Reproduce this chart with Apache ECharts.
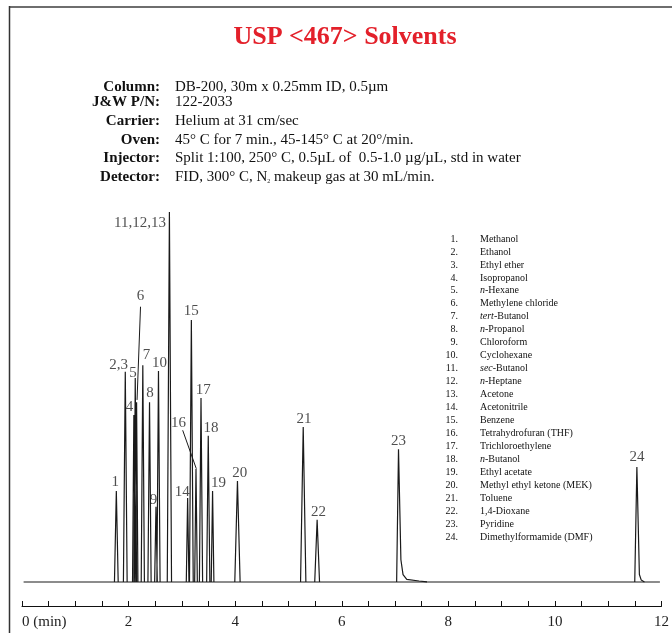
<!DOCTYPE html>
<html>
<head>
<meta charset="utf-8">
<script src="https://cdn.jsdelivr.net/npm/echarts@6/dist/echarts.min.js"></script>
<style>
html,body{margin:0;padding:0;background:#fff;}
#chart{width:672px;height:633px;}
</style>
</head>
<body>
<div id="chart"></div>
<script>
// ---- Data ----
var titleText = 'USP <467> Solvents';
var headerKeys = ['Column:', 'J&W P/N:', 'Carrier:', 'Oven:', 'Injector:', 'Detector:'];
var headerValues = [
  'DB-200, 30m x 0.25mm ID, 0.5µm',
  '122-2033',
  'Helium at 31 cm/sec',
  '45° C for 7 min., 45-145° C at 20°/min.',
  'Split 1:100, 250° C, 0.5µL of  0.5-1.0 µg/µL, std in water',
  'FID, 300° C, N{s|2} makeup gas at 30 mL/min.'
];
var compoundNumbers = ['1.','2.','3.','4.','5.','6.','7.','8.','9.','10.','11.','12.','13.','14.','15.','16.','17.','18.','19.','20.','21.','22.','23.','24.'];
var compoundNames = [
  'Methanol','Ethanol','Ethyl ether','Isopropanol','{i|n}-Hexane','Methylene chloride',
  '{i|tert}-Butanol','{i|n}-Propanol','Chloroform','Cyclohexane','{i|sec}-Butanol','{i|n}-Heptane',
  'Acetone','Acetonitrile','Benzene','Tetrahydrofuran (THF)','Trichloroethylene','{i|n}-Butanol',
  'Ethyl acetate','Methyl ethyl ketone (MEK)','Toluene','1,4-Dioxane','Pyridine','Dimethylformamide (DMF)'
];

// peaks: retention time (min), apex height (% of tallest), base width (min)
var peakTimes   = [1.770, 1.938, 2.099, 2.125, 2.150, 2.267, 2.393, 2.514, 2.561, 2.766, 3.108, 3.178, 3.265, 3.359, 3.495, 3.576, 4.043, 5.277, 5.538, 7.065, 11.538];
var peakHeights = [24.6, 56.8, 45.1, 55.1, 48.6, 58.6, 48.6, 20.3, 57.0, 100, 22.7, 70.8, 30.5, 49.7, 39.5, 24.6, 27.3, 41.9, 16.8, 35.9, 31.1];
var peakWidths  = [0.07, 0.07, 0.05, 0.05, 0.05, 0.06, 0.06, 0.05, 0.06, 0.08, 0.05, 0.07, 0.05, 0.06, 0.06, 0.05, 0.10, 0.10, 0.09, 0.07, 0.08];
// tailing right-hand sides of peaks 23 and 24 (time, height)
var tail23 = [[7.11, 6.0], [7.15, 2.0], [7.22, 0.7], [7.45, 0.25], [7.60, 0]];
var tail24 = [[11.585, 2.0], [11.62, 0.5], [11.68, 0]];
var baselineStart = 0.03, baselineEnd = 11.97;

// peak labels: text, time position, height position (label centre)
var labelTexts   = ['1', '2,3', '4', '5', '6', '7', '8', '9', '10', '11,12,13', '14', '15', '16', '17', '18', '19', '20', '21', '22', '23', '24'];
var labelTimes   = [1.751, 1.813, 2.019, 2.084, 2.224, 2.336, 2.402, 2.467, 2.579, 2.215, 3.009, 3.178, 2.935, 3.402, 3.546, 3.688, 4.088, 5.290, 5.565, 7.065, 11.538];
var labelHeights = [27.0, 58.6, 47.3, 56.5, 77.3, 61.4, 51.1, 22.2, 59.2, 97.0, 24.3, 73.2, 43.0, 51.9, 41.6, 26.8, 29.5, 44.1, 18.9, 38.1, 33.8];
// leader lines for labels 6 and 16
var leader6  = [[2.224, 74.4], [2.159, 49.2]];
var leader16 = [[3.015, 41.0], [3.271, 30.6]];

var tickValues = [0, 2, 4, 6, 8, 10, 12];
var tickLabels = ['0 (min)', '2', '4', '6', '8', '10', '12'];

// ---- build the trace ----
var peakData = [];
for (var i = 0; i < peakTimes.length; i++) {
  var t = peakTimes[i], h = peakHeights[i], w = peakWidths[i] / 2;
  peakData.push([t - w, 0]);
  peakData.push([t, h]);
  var tail = (i === 19) ? tail23 : (i === 20 ? tail24 : null);
  if (tail) { tail.forEach(function (p) { peakData.push(p); }); }
  else peakData.push([t + w, 0]);
  peakData.push([t, '-']);
}
var leaderData = leader6.concat([[leader6[1][0], '-']]).concat(leader16);
var labelData = labelTexts.map(function (s, k) { return [labelTimes[k], labelHeights[k], s]; });

var SERIF = '"Liberation Serif","Times New Roman",Times,serif';
var graphics = [
  { type: 'line', shape: { x1: 9, y1: 7, x2: 672, y2: 7 }, style: { stroke: '#6e6e6e', lineWidth: 2 } },
  { type: 'line', shape: { x1: 9.5, y1: 6, x2: 9.5, y2: 633 }, style: { stroke: '#333', lineWidth: 1.5 } },
  { type: 'text', x: 345, y: 37, style: { text: titleText, fill: '#e3202a', fontFamily: SERIF, fontSize: 26, fontWeight: 'bold', align: 'center', verticalAlign: 'middle' } }
];
var rowY = [87, 102, 121, 140, 158, 177];
headerKeys.forEach(function (k, j) {
  graphics.push({ type: 'text', x: 160, y: rowY[j], style: { text: k, fill: '#111', fontFamily: SERIF, fontSize: 15, fontWeight: 'bold', align: 'right', verticalAlign: 'middle' } });
  graphics.push({ type: 'text', x: 175, y: rowY[j], style: { text: headerValues[j], fill: '#111', fontFamily: SERIF, fontSize: 15, align: 'left', verticalAlign: 'middle',
    rich: { s: { fontSize: 6, fontFamily: SERIF, fill: '#111', verticalAlign: 'bottom', lineHeight: 14, padding: [10, 0, 0, 0] } } } });
});
compoundNumbers.forEach(function (n, j) {
  var y = 239 + 12.96 * j;
  graphics.push({ type: 'text', x: 458, y: y, style: { text: n, fill: '#111', fontFamily: SERIF, fontSize: 10, align: 'right', verticalAlign: 'middle' } });
  graphics.push({ type: 'text', x: 480, y: y, style: { text: compoundNames[j], fill: '#111', fontFamily: SERIF, fontSize: 10, align: 'left', verticalAlign: 'middle',
    rich: { i: { fontStyle: 'italic', fontFamily: SERIF, fontSize: 10, fill: '#111' } } } });
});

var chart = echarts.init(document.getElementById('chart'), null, { renderer: 'canvas' });
chart.setOption({
  animation: false,
  backgroundColor: '#fff',
  grid: { left: 22, right: 8, top: 212, bottom: 27 },
  xAxis: {
    type: 'value', min: 0, max: 12, interval: 0.5,
    axisLine: { show: true, onZero: false, lineStyle: { color: '#111', width: 1 } },
    axisTick: { show: true, inside: true, length: 5, lineStyle: { color: '#111' } },
    splitLine: { show: false },
    axisLabel: {
      show: true, margin: 9, color: '#222', fontFamily: SERIF, fontSize: 15,
      alignMinLabel: 'left', showMinLabel: true, showMaxLabel: true, hideOverlap: false,
      formatter: function (v) {
        var k = tickValues.indexOf(Math.round(v * 100) / 100);
        return k >= 0 ? tickLabels[k] : '';
      }
    }
  },
  yAxis: { type: 'value', min: -6.5, max: 100, show: false, splitLine: { show: false } },
  series: [
    { type: 'line', data: [[baselineStart, 0], [baselineEnd, 0]], symbol: 'none', lineStyle: { color: '#1a1a1a', width: 1.1 }, silent: true },
    { type: 'line', data: peakData, symbol: 'none', connectNulls: false, lineStyle: { color: '#1a1a1a', width: 1.2 }, silent: true },
    { type: 'line', data: leaderData, symbol: 'none', connectNulls: false, lineStyle: { color: '#1a1a1a', width: 1 }, silent: true },
    { type: 'scatter', data: labelData, symbolSize: 1, itemStyle: { color: 'rgba(0,0,0,0)' }, silent: true,
      label: { show: true, position: 'inside', color: '#222', fontFamily: SERIF, fontSize: 15,
        formatter: function (p) { return p.data[2]; } } }
  ],
  graphic: graphics
});
</script>
</body>
</html>
